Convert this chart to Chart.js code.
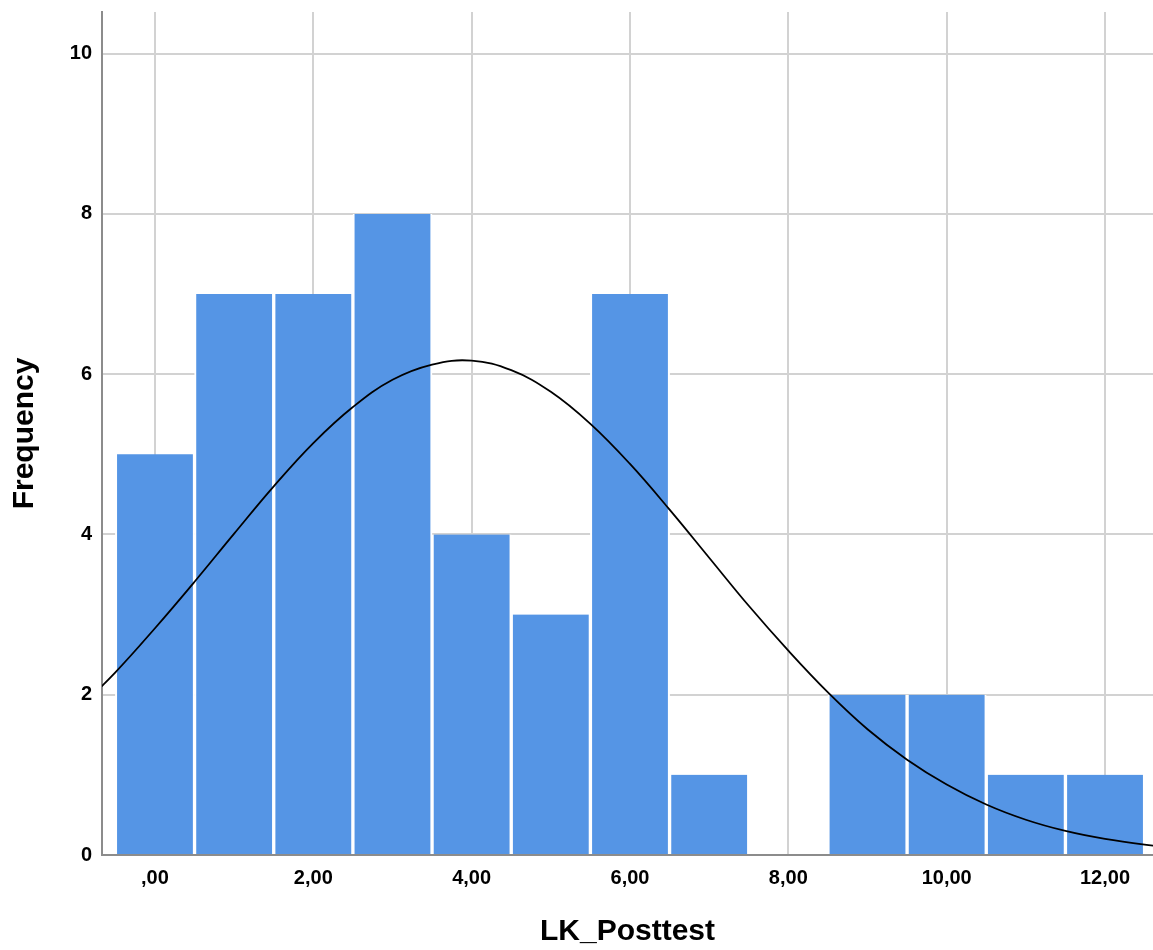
<!DOCTYPE html>
<html>
<head>
<meta charset="utf-8">
<script src="https://cdn.jsdelivr.net/npm/chart.js@4"></script>
<style>
  html, body { margin: 0; padding: 0; background: #ffffff; }
  #wrap { width: 1153px; height: 950px; }
</style>
</head>
<body>
<div id="wrap"><canvas id="hist" width="1153" height="950"></canvas></div>
<script>
// histogram bins (bin width 1)
const binCenters = [0, 1, 2, 3, 4, 5, 6, 7, 8, 9, 10, 11, 12];
const frequencies = [5, 7, 7, 8, 4, 3, 7, 1, 0, 2, 2, 1, 1];

// normal curve
const curveX = [-1, -0.5, 0, 0.5, 1, 1.5, 2, 2.5, 3, 3.5, 4, 4.5, 5, 5.5, 6, 6.5,
  7, 7.5, 8, 8.5, 9, 9.5, 10, 10.5, 11, 11.5, 12, 12.5, 13];
const curveY = [1.79, 2.28, 2.83, 3.41, 4.01, 4.60, 5.14, 5.59, 5.93, 6.12, 6.17, 6.05,
  5.78, 5.38, 4.88, 4.31, 3.71, 3.11, 2.55, 2.03, 1.57, 1.19, 0.88, 0.63, 0.44, 0.30,
  0.20, 0.13, 0.08];

// axis ticks
const xTickValues = [0, 2, 4, 6, 8, 10, 12];
const xTickLabels = [',00', '2,00', '4,00', '6,00', '8,00', '10,00', '12,00'];
const yTickValues = [0, 2, 4, 6, 8, 10];
const yTickLabels = ['0', '2', '4', '6', '8', '10'];

const FONT = '"Liberation Sans", Arial, sans-serif';

const ctx = document.getElementById('hist').getContext('2d');
new Chart(ctx, {
  type: 'bar',
  data: {
    datasets: [
      {
        type: 'line',
        label: 'Normal',
        data: curveX.map((x, i) => ({ x: x, y: curveY[i] })),
        borderColor: '#000000',
        borderWidth: 1.8,
        pointRadius: 0,
        tension: 0.4,
        fill: false,
        order: 0,
      },
      {
        type: 'bar',
        label: 'Frequency',
        data: binCenters.map((x, i) => ({ x: x, y: frequencies[i] })),
        backgroundColor: '#5595e5',
        borderColor: '#ffffff',
        borderWidth: { left: 2, right: 2, top: 0, bottom: 0 },
        borderSkipped: false,
        barPercentage: 1,
        categoryPercentage: 1,
        grouped: false,
        order: 1,
      },
    ],
  },
  options: {
    responsive: false,
    animation: false,
    layout: { padding: { top: 0, right: 0, bottom: 0, left: 0 } },
    plugins: {
      legend: { display: false },
      tooltip: { enabled: false },
    },
    scales: {
      x: {
        type: 'linear',
        offset: false,
        min: -0.669,
        max: 12.606,
        afterBuildTicks: (s) => { s.ticks = xTickValues.map((v) => ({ value: v })); },
        afterFit: (s) => { s.height = 95; },
        grid: { color: '#d2d2d2', lineWidth: 2, drawTicks: false, offset: false },
        border: { display: true, color: '#8c8c8c', width: 2 },
        ticks: {
          padding: 11,
          color: '#000000',
          font: { family: FONT, size: 20, weight: 'bold' },
          callback: (v, i) => xTickLabels[i],
          maxRotation: 0,
          autoSkip: false,
        },
        title: {
          display: true,
          text: 'LK_Posttest',
          color: '#000000',
          font: { family: FONT, size: 30, weight: 'bold' },
          padding: { top: 0, bottom: 0 },
        },
      },
      y: {
        min: 0,
        max: 10.52,
        afterBuildTicks: (s) => { s.ticks = yTickValues.map((v) => ({ value: v })); },
        afterFit: (s) => {
          s.width = 102;
          s.paddingTop = 12;
        },
        grid: { color: '#d2d2d2', lineWidth: 2, drawTicks: false },
        border: { display: true, color: '#8c8c8c', width: 2 },
        ticks: {
          padding: 10,
          color: '#000000',
          font: { family: FONT, size: 20, weight: 'bold' },
          callback: (v, i) => yTickLabels[i],
        },
        title: {
          display: true,
          text: 'Frequency',
          color: '#000000',
          font: { family: FONT, size: 30, weight: 'bold' },
          padding: { top: 7, bottom: 0 },
        },
      },
    },
  },
});
</script>
</body>
</html>
